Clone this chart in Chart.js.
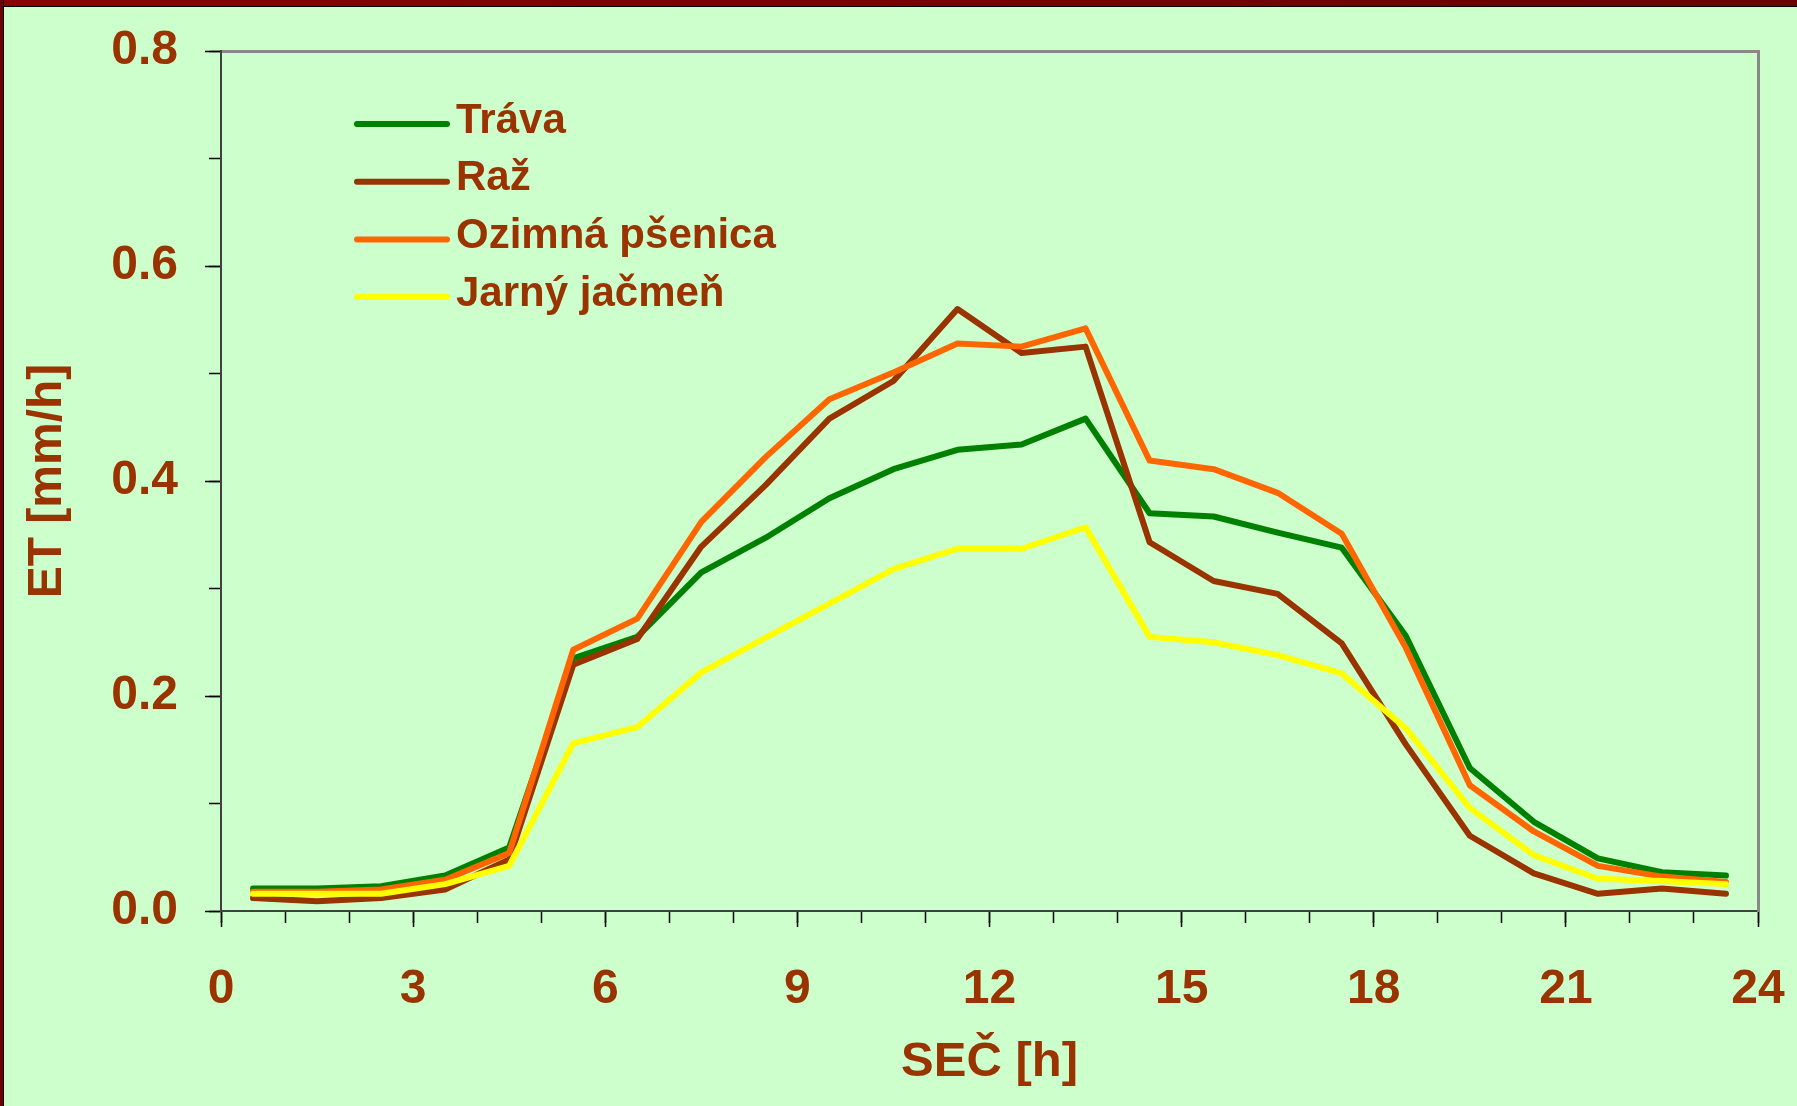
<!DOCTYPE html>
<html>
<head>
<meta charset="utf-8">
<script src="https://cdn.jsdelivr.net/npm/chart.js@4.4.1/dist/chart.umd.min.js"></script>
<style>
    html, body { margin: 0; padding: 0; background: #CCFFCC; }
    #wrap { position: relative; width: 1797px; height: 1106px; overflow: hidden; }
    #wrap:before { content: ''; position: absolute; left: 0; top: 0; width: 100%; height: 6px;
        background: linear-gradient(to right, #8a0000, #6a0000); border-bottom: 1px solid #000; z-index: 2; }
    #wrap:after { content: ''; position: absolute; left: 0; top: 0; width: 3px; height: 100%;
        background: #6e0000; border-right: 1px solid #000; z-index: 2; }
</style>
</head>
<body>
<div id="wrap"><canvas id="etChart"></canvas></div>
<script>
const hours = [0.5, 1.5, 2.5, 3.5, 4.5, 5.5, 6.5, 7.5, 8.5, 9.5, 10.5, 11.5,
    12.5, 13.5, 14.5, 15.5, 16.5, 17.5, 18.5, 19.5, 20.5, 21.5, 22.5, 23.5];

const trava = [0.021, 0.021, 0.023, 0.033, 0.059, 0.235, 0.255, 0.315, 0.347, 0.384, 0.411, 0.429,
    0.434, 0.458, 0.370, 0.367, 0.352, 0.338, 0.256, 0.133, 0.083, 0.049, 0.036, 0.033];
const raz = [0.012, 0.009, 0.012, 0.020, 0.048, 0.229, 0.253, 0.339, 0.396, 0.458, 0.493, 0.560,
    0.519, 0.525, 0.343, 0.307, 0.295, 0.249, 0.155, 0.070, 0.035, 0.016, 0.021, 0.016];
const ozimnaPsenica = [0.018, 0.018, 0.020, 0.029, 0.054, 0.243, 0.272, 0.362, 0.422, 0.476, 0.501, 0.528,
    0.525, 0.542, 0.419, 0.411, 0.389, 0.351, 0.245, 0.117, 0.074, 0.042, 0.032, 0.027];
const jarnyJacmen = [0.016, 0.016, 0.016, 0.025, 0.042, 0.156, 0.171, 0.222, 0.254, 0.286, 0.318, 0.337,
    0.337, 0.357, 0.255, 0.250, 0.238, 0.221, 0.170, 0.096, 0.052, 0.030, 0.028, 0.025];

const seriesNames = ['Tráva', 'Raž', 'Ozimná pšenica', 'Jarný jačmeň'];
const seriesColors = ['#008000', '#993300', '#FF6600', '#FFFF00'];

const textColor = '#993300';
const fontFamily = "'Liberation Sans', Arial, sans-serif";

function toPoints(values) {
    return values.map((v, i) => ({ x: hours[i], y: v }));
}

// legend drawn inside the plot, top-left, in dataset order
const insideLegend = {
    id: 'insideLegend',
    afterDatasetsDraw(chart) {
        const ctx = chart.ctx;
        const area = chart.chartArea;
        ctx.save();
        ctx.font = 'bold 42px ' + fontFamily;
        ctx.textBaseline = 'middle';
        ctx.lineCap = 'round';
        chart.data.datasets.forEach((ds, i) => {
            const y = area.top + 73 + i * 57.7;
            ctx.strokeStyle = ds.borderColor;
            ctx.lineWidth = 6;
            ctx.beginPath();
            ctx.moveTo(area.left + 136, y);
            ctx.lineTo(area.left + 226, y);
            ctx.stroke();
            ctx.fillStyle = textColor;
            ctx.fillText(ds.label, area.left + 235, y - 3);
        });
        ctx.restore();
    }
};

// keep the plot box where it is: no extra side padding for edge labels
function noSidePadding(s) {
    s.paddingLeft = 0; s.paddingRight = 0;
    s.paddingTop = 0; s.paddingBottom = 0;
}

const allSeries = [trava, raz, ozimnaPsenica, jarnyJacmen];

const ctx = document.getElementById('etChart').getContext('2d');
new Chart(ctx, {
    type: 'line',
    data: {
        datasets: allSeries.map((vals, i) => ({
            label: seriesNames[i],
            data: toPoints(vals),
            borderColor: seriesColors[i],
            backgroundColor: seriesColors[i],
            borderWidth: 6,
            pointRadius: 0,
            borderCapStyle: 'round',
            borderJoinStyle: 'round',
            tension: 0,
            fill: false,
            order: allSeries.length - i,
            xAxisID: 'x',
            yAxisID: 'y'
        }))
    },
    options: {
        responsive: true,
        maintainAspectRatio: false,
        animation: false,
        layout: { padding: { top: 51, right: 39, left: 0, bottom: 0 } },
        scales: {
            xMinor: {
                type: 'linear', position: 'bottom', weight: 0,
                min: 0, max: 24,
                ticks: { stepSize: 1, display: false },
                grid: { drawOnChartArea: false, tickLength: 12, color: '#000', tickWidth: 1.5 },
                border: { display: false },
                afterFit: s => { noSidePadding(s); s.height = 0; }
            },
            x: {
                type: 'linear', position: 'bottom', weight: 1,
                min: 0, max: 24,
                ticks: {
                    stepSize: 3, padding: 34, color: textColor,
                    font: { family: fontFamily, size: 48, weight: 'bold' }
                },
                grid: { drawOnChartArea: false, tickLength: 16, color: '#000', tickWidth: 1.5 },
                border: { display: true, color: '#404040', width: 2 },
                title: {
                    display: true, text: 'SEČ [h]', color: textColor,
                    font: { family: fontFamily, size: 49, weight: 'bold' },
                    padding: { top: 0, bottom: 14 }
                },
                afterFit: s => { noSidePadding(s); s.height = 195; }
            },
            xTop: {
                type: 'linear', position: 'top',
                min: 0, max: 24,
                ticks: { display: false },
                grid: { drawOnChartArea: false, drawTicks: false },
                border: { display: true, color: '#888888', width: 3 },
                afterFit: s => { noSidePadding(s); s.height = 0; }
            },
            yMinor: {
                type: 'linear', position: 'left', weight: 0,
                min: 0, max: 0.8,
                ticks: { stepSize: 0.1, display: false },
                grid: { drawOnChartArea: false, tickLength: 12, color: '#000', tickWidth: 1.5 },
                border: { display: false },
                afterFit: s => { noSidePadding(s); s.width = 0; }
            },
            y: {
                type: 'linear', position: 'left', weight: 1,
                min: 0, max: 0.8,
                ticks: {
                    stepSize: 0.2, padding: 27, color: textColor,
                    font: { family: fontFamily, size: 48, weight: 'bold' },
                    callback: v => v.toFixed(1)
                },
                grid: { drawOnChartArea: false, tickLength: 16, color: '#000', tickWidth: 1.5 },
                border: { display: true, color: '#404040', width: 2 },
                title: {
                    display: true, text: 'ET [mm/h]', color: textColor,
                    font: { family: fontFamily, size: 48, weight: 'bold' },
                    padding: { top: 19, bottom: 0 }
                },
                afterFit: s => { noSidePadding(s); s.width = 221; }
            },
            yRight: {
                type: 'linear', position: 'right',
                min: 0, max: 0.8,
                ticks: { display: false },
                grid: { drawOnChartArea: false, drawTicks: false },
                border: { display: true, color: '#888888', width: 3 },
                afterFit: s => { noSidePadding(s); s.width = 0; }
            }
        },
        plugins: {
            legend: { display: false },
            tooltip: { enabled: false }
        }
    },
    plugins: [insideLegend]
});
</script>
</body>
</html>
